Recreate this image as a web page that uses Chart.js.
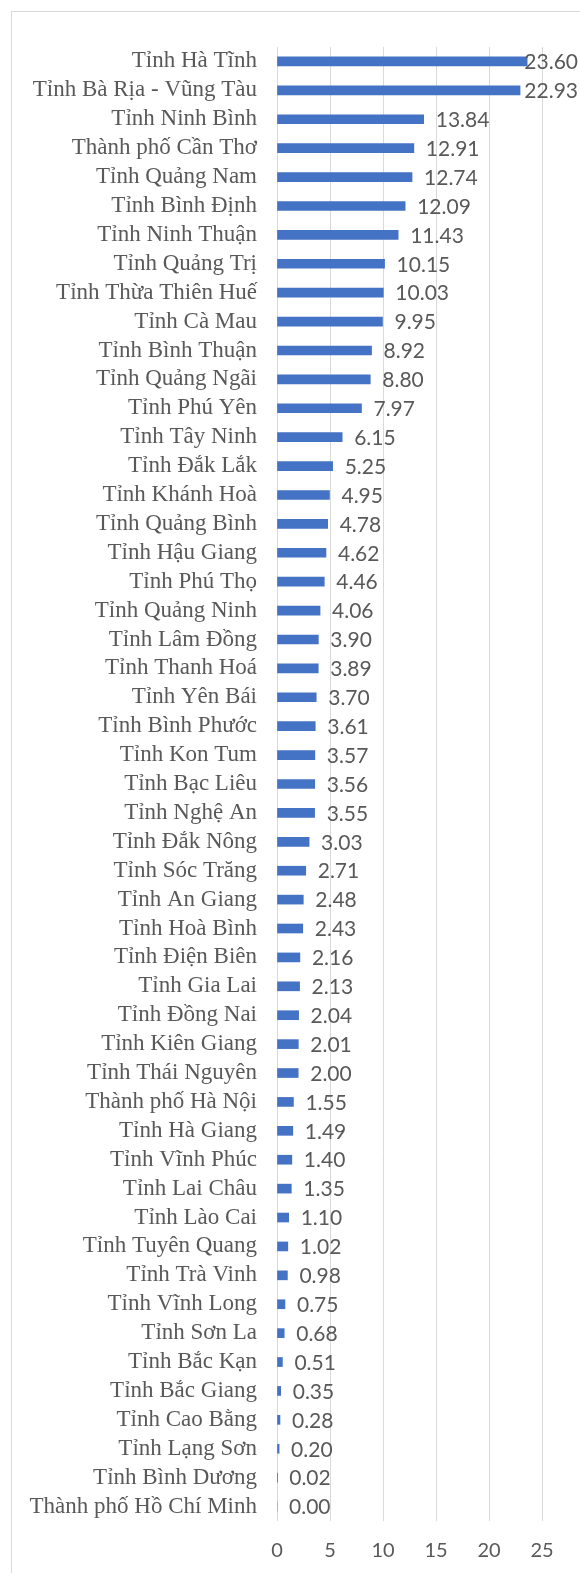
<!DOCTYPE html>
<html>
<head>
<meta charset="utf-8">
<script src="https://cdn.jsdelivr.net/npm/chart.js@4.4.1/dist/chart.umd.min.js"></script>
<style>
    body { margin: 0; background: #fff; width: 580px; height: 1573px; overflow: hidden; position: relative; }
    #frame { position: absolute; left: 11px; top: 11px; width: 600px; height: 1600px; border: 1px solid #d9d9d9; }
    #wrap { position: absolute; left: 12px; top: 12px; width: 568px; height: 1561px; }
</style>
</head>
<body>
<div id="frame"></div>
<div id="wrap"><canvas id="chart"></canvas></div>
<script>
// Data
const provinces = [
    'Tỉnh Hà Tĩnh', 'Tỉnh Bà Rịa - Vũng Tàu', 'Tỉnh Ninh Bình', 'Thành phố Cần Thơ', 'Tỉnh Quảng Nam',
    'Tỉnh Bình Định', 'Tỉnh Ninh Thuận', 'Tỉnh Quảng Trị', 'Tỉnh Thừa Thiên Huế', 'Tỉnh Cà Mau',
    'Tỉnh Bình Thuận', 'Tỉnh Quảng Ngãi', 'Tỉnh Phú Yên', 'Tỉnh Tây Ninh', 'Tỉnh Đắk Lắk',
    'Tỉnh Khánh Hoà', 'Tỉnh Quảng Bình', 'Tỉnh Hậu Giang', 'Tỉnh Phú Thọ', 'Tỉnh Quảng Ninh',
    'Tỉnh Lâm Đồng', 'Tỉnh Thanh Hoá', 'Tỉnh Yên Bái', 'Tỉnh Bình Phước', 'Tỉnh Kon Tum',
    'Tỉnh Bạc Liêu', 'Tỉnh Nghệ An', 'Tỉnh Đắk Nông', 'Tỉnh Sóc Trăng', 'Tỉnh An Giang',
    'Tỉnh Hoà Bình', 'Tỉnh Điện Biên', 'Tỉnh Gia Lai', 'Tỉnh Đồng Nai', 'Tỉnh Kiên Giang',
    'Tỉnh Thái Nguyên', 'Thành phố Hà Nội', 'Tỉnh Hà Giang', 'Tỉnh Vĩnh Phúc', 'Tỉnh Lai Châu',
    'Tỉnh Lào Cai', 'Tỉnh Tuyên Quang', 'Tỉnh Trà Vinh', 'Tỉnh Vĩnh Long', 'Tỉnh Sơn La',
    'Tỉnh Bắc Kạn', 'Tỉnh Bắc Giang', 'Tỉnh Cao Bằng', 'Tỉnh Lạng Sơn', 'Tỉnh Bình Dương',
    'Thành phố Hồ Chí Minh'
];
const values = [
    23.60, 22.93, 13.84, 12.91, 12.74,
    12.09, 11.43, 10.15, 10.03, 9.95,
    8.92, 8.80, 7.97, 6.15, 5.25,
    4.95, 4.78, 4.62, 4.46, 4.06,
    3.90, 3.89, 3.70, 3.61, 3.57,
    3.56, 3.55, 3.03, 2.71, 2.48,
    2.43, 2.16, 2.13, 2.04, 2.01,
    2.00, 1.55, 1.49, 1.40, 1.35,
    1.10, 1.02, 0.98, 0.75, 0.68,
    0.51, 0.35, 0.28, 0.20, 0.02,
    0.00
];
const xTicks = [0, 5, 10, 15, 20, 25];

const gray = '#595959';

// value labels at the end of each bar
const valueLabels = {
    id: 'valueLabels',
    afterDatasetsDraw(chart) {
        const ctx = chart.ctx;
        const meta = chart.getDatasetMeta(0);
        ctx.save();
        ctx.font = '21px Lato, "Open Sans", sans-serif';
        ctx.fillStyle = gray;
        ctx.textBaseline = 'middle';
        ctx.textAlign = 'left';
        meta.data.forEach((bar, i) => {
            const txt = values[i].toFixed(2);
            const w = ctx.measureText(txt).width;
            const x = Math.min(bar.x + 12, chart.width - w - 2);
            ctx.fillText(txt, x, bar.y + 1);
        });
        ctx.restore();
    }
};

const config = {
    type: 'bar',
    data: {
        labels: provinces,
        datasets: [{
            data: values,
            backgroundColor: '#4472C4',
            borderWidth: 0,
            barThickness: 9
        }]
    },
    options: {
        indexAxis: 'y',
        responsive: true,
        maintainAspectRatio: false,
        animation: false,
        layout: { padding: { top: 35, right: 38, left: 0, bottom: 0 } },
        plugins: {
            legend: { display: false },
            tooltip: { enabled: false }
        },
        scales: {
            x: {
                min: 0,
                max: 25,
                afterBuildTicks: (scale) => { scale.ticks = xTicks.map(v => ({ value: v })); },
                afterFit: (scale) => { scale.height = 52; },
                border: { display: false },
                grid: { color: '#d9d9d9', lineWidth: 1, drawTicks: false },
                ticks: {
                    padding: 18,
                    color: gray,
                    font: { family: 'Lato, "Open Sans", sans-serif', size: 20 }
                }
            },
            y: {
                afterFit: (scale) => { scale.width = 265; },
                border: { display: false },
                grid: { display: false, drawTicks: false },
                ticks: {
                    padding: 20,
                    autoSkip: false,
                    color: gray,
                    font: { family: '"Liberation Serif", "Times New Roman", serif', size: 23 }
                }
            }
        }
    },
    plugins: [valueLabels]
};

const ctx = document.getElementById('chart').getContext('2d');
new Chart(ctx, config);
</script>
</body>
</html>
